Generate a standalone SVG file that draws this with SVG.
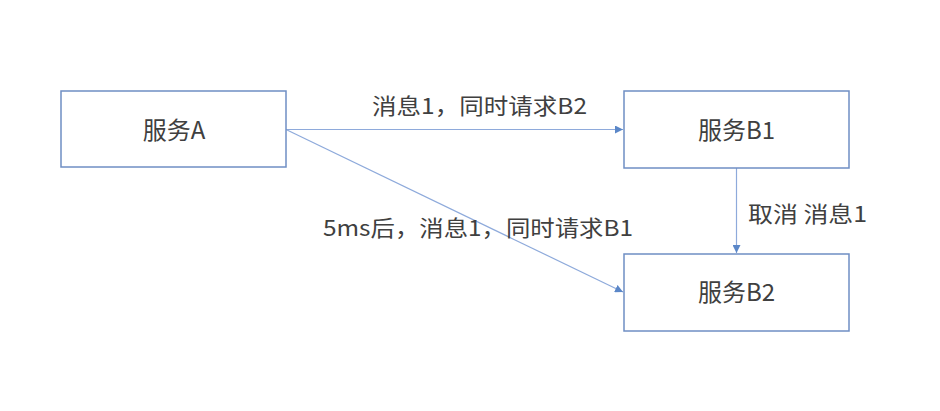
<svg xmlns="http://www.w3.org/2000/svg" width="940" height="411" viewBox="0 0 940 411">
<style>
.box{fill:#ffffff;stroke:#6f8ec4;stroke-width:1.5}
.lbl{font-family:"Noto Sans CJK SC","Noto Sans",sans-serif;fill:#404040}
.nl{font-size:24px;text-anchor:middle}
.el{font-size:22px}
.edge{stroke:#8eaadb;stroke-width:1.2;fill:none;marker-end:url(#ah)}
</style>
<defs>
<marker id="ah" viewBox="0 0 10 10" refX="10" refY="5" markerWidth="8" markerHeight="8" markerUnits="userSpaceOnUse" orient="auto">
<path d="M0,0 L10,5 L0,10 z" fill="#5b87c8"/>
</marker>
</defs>
<rect width="940" height="411" fill="#ffffff"/>
<g id="connectors">
<line class="edge" x1="286" y1="129.5" x2="623" y2="129.5"/>
<line class="edge" x1="286" y1="129.5" x2="623" y2="292"/>
<line class="edge" x1="736.5" y1="168" x2="736.5" y2="253"/>
<text class="lbl el" x="372" y="114" textLength="215" lengthAdjust="spacingAndGlyphs">消息1，同时请求B2</text>
<text class="lbl el" x="323" y="236" textLength="310" lengthAdjust="spacingAndGlyphs">5ms后，消息1，同时请求B1</text>
<text class="lbl el" x="748" y="222" textLength="119" lengthAdjust="spacingAndGlyphs">取消 消息1</text>
</g>
<g id="nodeA">
<rect class="box" x="61" y="91" width="225" height="76"/>
<text class="lbl nl" x="174" y="139">服务A</text>
</g>
<g id="nodeB1">
<rect class="box" x="624" y="91" width="225" height="77"/>
<text class="lbl nl" x="736.5" y="139">服务B1</text>
</g>
<g id="nodeB2">
<rect class="box" x="624" y="254" width="225" height="77"/>
<text class="lbl nl" x="736.5" y="301">服务B2</text>
</g>
</svg>
